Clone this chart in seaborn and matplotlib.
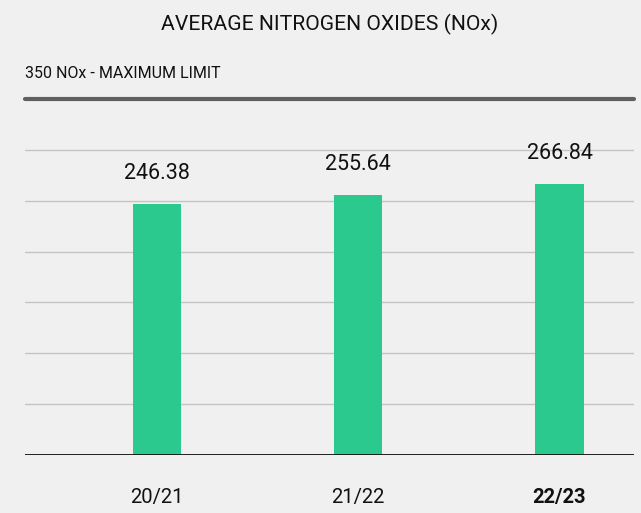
import matplotlib
matplotlib.use("Agg")
import pandas as pd
import matplotlib.pyplot as plt
import seaborn as sns

# 数据
seasons = ["20/21", "21/22", "22/23"]
nox_values = [246.38, 255.64, 266.84]
limit_value = 350
grid_levels = [50, 100, 150, 200, 250, 300]

sns.set_theme(style="white")
plt.rcParams["font.family"] = ["Roboto", "DejaVu Sans"]

bg = "#f0f0f0"
fig = plt.figure(figsize=(6.41, 5.13), dpi=100, facecolor=bg)
ax = fig.add_axes([25 / 641, 1 - 455 / 513, 609 / 641, 356 / 513], facecolor=bg)

df = pd.DataFrame({"season": seasons, "nox": nox_values})
sns.barplot(data=df, x="season", y="nox", color="#2cc98f", width=0.24,
            saturation=1, linewidth=0, ax=ax, zorder=3)

# 网格线
for g in grid_levels:
    ax.axhline(g, color="#c4c4c4", lw=1, zorder=1)
ax.axhline(0, color="#111111", lw=1.3, zorder=4)
ax.axhline(limit_value, color="#5f5f5f", lw=3, zorder=4, clip_on=False)

# 数值标签
for i, v in enumerate(nox_values):
    ax.annotate(f"{v:.2f}", (i, v), xytext=(0, 22), textcoords="offset points",
                ha="center", va="center", fontsize=15.5, color="#111111")

ax.set_xlim(-0.655, 2.37)
ax.set_ylim(0, limit_value)
ax.set_yticks([])
ax.set_xlabel("")
ax.set_ylabel("")
for s in ax.spines.values():
    s.set_visible(False)
ax.tick_params(axis="x", length=0, pad=24, labelsize=14.5, labelcolor="#111111")
ax.get_xticklabels()[-1].set_fontweight("bold")

fig.text(329.5 / 641, 1 - 24 / 513, "AVERAGE NITROGEN OXIDES (NOx)",
         ha="center", va="center", fontsize=15.2, color="#111111")
fig.text(25 / 641, 1 - 74 / 513, "350 NOx - MAXIMUM LIMIT",
         ha="left", va="center", fontsize=11.5, color="#111111")

plt.savefig("out.png", dpi=100, facecolor=bg)
plt.close("all")
